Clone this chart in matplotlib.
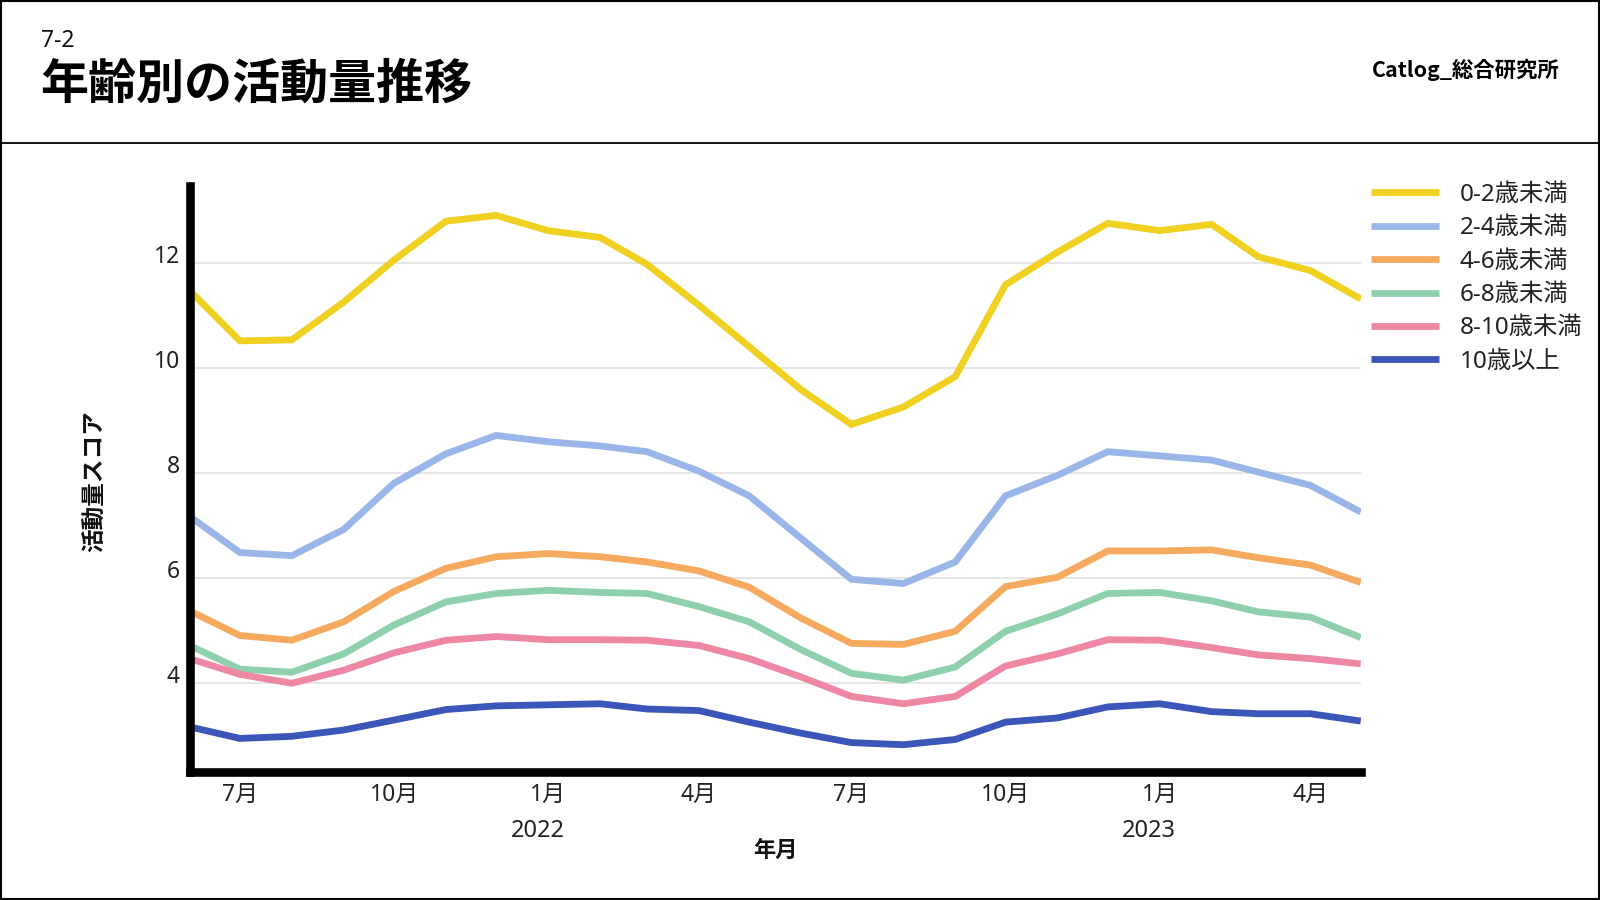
import matplotlib
matplotlib.use("Agg")
import matplotlib.pyplot as plt
import matplotlib.dates as mdates
from matplotlib.lines import Line2D
from matplotlib.patches import Rectangle
import pandas as pd

plt.rcParams['font.family'] = ['Noto Sans', 'Noto Sans CJK JP', 'DejaVu Sans']
CJK = ['Noto Sans CJK JP', 'DejaVu Sans']

# ---------------- data ----------------
months = pd.date_range("2021-06-01", "2023-05-01", freq="MS")
series_names = ["0-2歳未満", "2-4歳未満", "4-6歳未満", "6-8歳未満", "8-10歳未満", "10歳以上"]
age_0_2 = [11.48, 10.52, 10.54, 11.26, 12.06, 12.80, 12.91, 12.62, 12.49, 11.98, 11.20, 10.41,
           9.59, 8.93, 9.26, 9.84, 11.59, 12.21, 12.76, 12.62, 12.74, 12.12, 11.86, 11.32]
age_2_4 = [7.18, 6.49, 6.43, 6.93, 7.81, 8.37, 8.72, 8.60, 8.52, 8.41, 8.04, 7.57,
           6.76, 5.98, 5.90, 6.31, 7.57, 7.96, 8.41, 8.33, 8.25, 8.02, 7.77, 7.26]
age_4_6 = [5.38, 4.91, 4.82, 5.17, 5.75, 6.19, 6.41, 6.47, 6.41, 6.31, 6.14, 5.83,
           5.24, 4.76, 4.74, 4.99, 5.84, 6.02, 6.52, 6.52, 6.54, 6.39, 6.25, 5.92]
age_6_8 = [4.72, 4.27, 4.21, 4.56, 5.11, 5.55, 5.71, 5.77, 5.73, 5.71, 5.46, 5.17,
           4.64, 4.19, 4.06, 4.31, 4.99, 5.32, 5.71, 5.73, 5.57, 5.36, 5.26, 4.87]
age_8_10 = [4.47, 4.17, 4.00, 4.25, 4.58, 4.82, 4.89, 4.83, 4.83, 4.82, 4.72, 4.47,
            4.12, 3.75, 3.61, 3.75, 4.33, 4.56, 4.83, 4.82, 4.68, 4.54, 4.47, 4.37]
age_10p = [3.17, 2.95, 2.99, 3.11, 3.30, 3.50, 3.57, 3.59, 3.61, 3.51, 3.48, 3.26,
           3.05, 2.87, 2.83, 2.93, 3.26, 3.34, 3.55, 3.61, 3.46, 3.42, 3.42, 3.28]
colors = ["#F0D020", "#9AB6E8", "#F6AA60", "#8FD0AC", "#EE88A2", "#3B55B9"]

y_ticks = [4, 6, 8, 10, 12]
x_ticks = pd.to_datetime(["2021-07-01", "2021-10-01", "2022-01-01", "2022-04-01",
                          "2022-07-01", "2022-10-01", "2023-01-01", "2023-04-01"])
x_tick_labels = ["7月", "10月", "1月", "4月", "7月", "10月", "1月", "4月"]
year_ticks = pd.to_datetime(["2022-01-01", "2023-01-01"])
year_labels = ["2022", "2023"]

# ---------------- figure ----------------
W, H = 1600, 900
fig = plt.figure(figsize=(16, 9), dpi=100)
fig.patch.set_facecolor("white")

# frame and header separator
fig.add_artist(Rectangle((0.0005, 0.001), 0.999, 0.998, transform=fig.transFigure,
                         fill=False, edgecolor="black", linewidth=1.5))
fig.add_artist(Line2D([0, 1], [1 - 143 / H, 1 - 143 / H], transform=fig.transFigure,
                      color="black", linewidth=1.3))

fig.text(41 / W, 1 - 41 / H, "7-2", fontsize=16.5, va="center", ha="left", color="#111111")
fig.text(40 / W, 1 - 84 / H, "年齢別の活動量推移", fontsize=34.6, fontweight="bold",
         va="center", ha="left", color="black", family=CJK)
fig.text(1560 / W, 1 - 70 / H, "Catlog_総合研究所", fontsize=15.4, fontweight="bold",
         va="center", ha="right", color="black", family=CJK)

ax = fig.add_axes([189.6 / W, 128.5 / H, (1360.7 - 189.6) / W, (771.5 - 186) / H])

all_series = [age_0_2, age_2_4, age_4_6, age_6_8, age_8_10, age_10p]
for name, vals, c in zip(series_names, all_series, colors):
    ax.plot(months, vals, color=c, linewidth=4.9, label=name, solid_joinstyle="miter",
            solid_capstyle="butt", zorder=3)

ax.set_xlim(months[0], months[-1])
ax.set_ylim(2.32, 13.47)

ax.set_yticks(y_ticks)
ax.set_yticklabels([str(v) for v in y_ticks], fontsize=16.5, color="#222222", va="baseline")
ax.tick_params(axis="y", length=0, pad=7)

ax.set_xticks(x_ticks)
ax.set_xticklabels(x_tick_labels, fontsize=16.5, color="#222222")
ax.tick_params(axis="x", length=0, pad=8)
ax.set_xticks(year_ticks, minor=True)
ax.tick_params(axis="x", which="minor", length=0, labelbottom=False)

ax.grid(axis="y", which="major", color="#e2e2e2", linewidth=1.2)
ax.grid(axis="x", which="minor", color="#e2e2e2", linewidth=1.2)
ax.grid(axis="x", which="major", visible=False)
ax.set_axisbelow(True)

for s in ["top", "right"]:
    ax.spines[s].set_visible(False)
for s in ["left", "bottom"]:
    ax.spines[s].set_linewidth(6.2)
    ax.spines[s].set_color("black")
    ax.spines[s].set_zorder(5)

for d, lab in zip(year_ticks, year_labels):
    ax.annotate(lab, xy=(mdates.date2num(d), 0), xycoords=ax.get_xaxis_transform(),
                xytext=(-7.5, -43), textcoords="offset points",
                ha="center", va="center", fontsize=17, color="#222222")

ax.set_xlabel("年月", fontsize=16, fontweight="bold", labelpad=23, color="#111111",
              family=CJK)
fig.text(95 / W, 1 - 481 / H, "活動量スコア", rotation=90, fontsize=17, fontweight="bold",
         va="center", ha="center", color="#111111", family=CJK)

leg = ax.legend(loc="upper left", bbox_to_anchor=(1371 / W, 1 - 183 / H),
                bbox_transform=fig.transFigure, frameon=False, fontsize=17.5,
                handlelength=2.8, handletextpad=0.86, labelspacing=0.385, borderaxespad=0,
                borderpad=0)
for t in leg.get_texts():
    t.set_color("#222222")

fig.savefig("out.png", dpi=100, facecolor="white")
